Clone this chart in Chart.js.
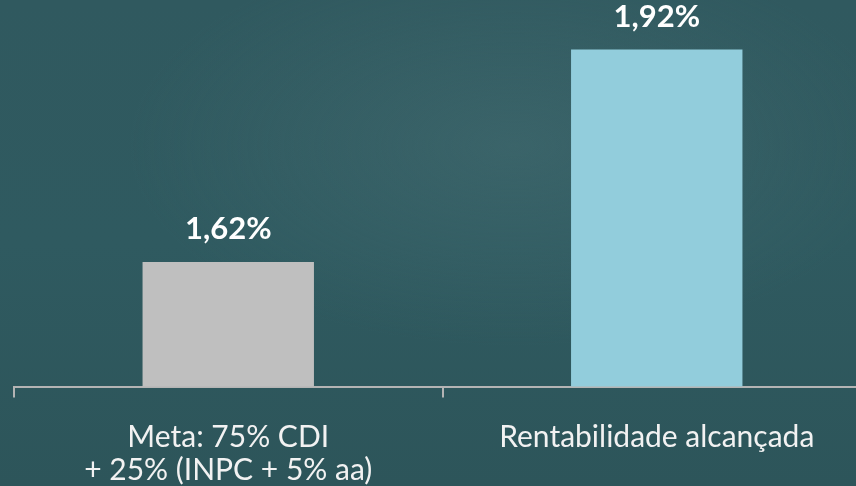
<!DOCTYPE html>
<html>
<head>
<meta charset="utf-8">
<script src="https://cdn.jsdelivr.net/npm/chart.js@4/dist/chart.umd.min.js"></script>
<style>
  html, body { margin: 0; padding: 0; width: 856px; height: 486px; overflow: hidden; }
  body {
    background:
      radial-gradient(ellipse 60% 55% at 60% 30%, rgba(72,112,117,0.45), rgba(72,112,117,0) 75%),
      linear-gradient(180deg, #30595f 0%, #2f5a60 50%, #2d555a 100%);
  }
  #wrap { position: absolute; left: 0; top: 0; width: 871px; height: 486px; }
</style>
</head>
<body>
<div id="wrap"><canvas id="c" width="871" height="486"></canvas></div>
<script>
const categories = [["Meta: 75% CDI", "+ 25% (INPC + 5% aa)"], "Rentabilidade alcançada"];
const values = [1.62, 1.92];
const barColors = ["#bfbfbf", "#92cddc"];
const yMin = 1.444;
const yMax = 1.99;

const labelPlugin = {
  id: 'valueLabels',
  afterDatasetsDraw(chart) {
    const ctx = chart.ctx;
    const meta = chart.getDatasetMeta(0);
    ctx.save();
    ctx.fillStyle = '#ffffff';
    ctx.font = 'bold 31px Lato, "Open Sans", sans-serif';
    ctx.textAlign = 'center';
    ctx.textBaseline = 'alphabetic';
    meta.data.forEach((bar, i) => {
      const txt = values[i].toFixed(2).replace('.', ',') + '%';
      ctx.fillText(txt, bar.x, bar.y - 22.5);
    });
    ctx.restore();
  }
};

new Chart(document.getElementById('c'), {
  type: 'bar',
  data: {
    labels: categories,
    datasets: [{
      data: values,
      backgroundColor: barColors,
      borderWidth: 0,
      barPercentage: 0.4,
      categoryPercentage: 1.0
    }]
  },
  options: {
    responsive: false,
    animation: false,
    layout: { padding: { left: 14, right: 0, top: 0, bottom: 0 } },
    plugins: { legend: { display: false }, tooltip: { enabled: false } },
    scales: {
      x: {
        offset: true,
        grid: {
          offset: true,
          drawOnChartArea: false,
          drawTicks: true,
          tickLength: 11,
          color: '#b4b4b4',
          lineWidth: 2
        },
        border: { display: true, color: '#b4b4b4', width: 2 },
        ticks: {
          color: '#f2f2f2',
          font: { family: 'Lato, "Open Sans", sans-serif', size: 30, lineHeight: '33px' },
          padding: 23,
          maxRotation: 0,
          autoSkip: false
        },
        afterFit(scale) { scale.height = 99.5; }
      },
      y: {
        display: false,
        min: yMin,
        max: yMax
      }
    }
  },
  plugins: [labelPlugin]
});
</script>
</body>
</html>
